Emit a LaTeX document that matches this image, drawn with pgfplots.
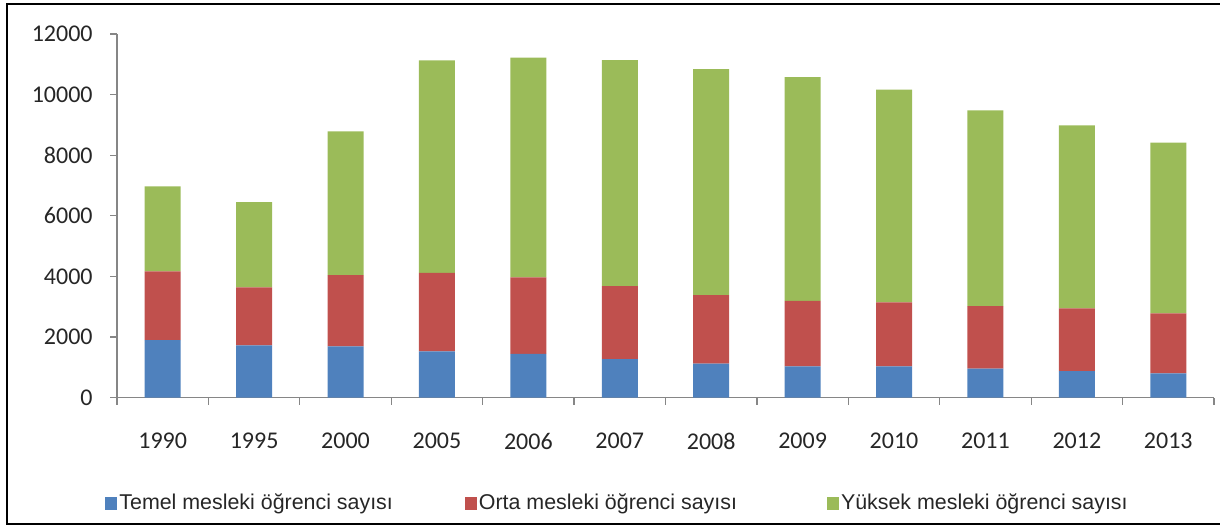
\documentclass[border=0pt]{standalone}
\usepackage{pgfplots}
\usepackage{pgfplotstable}
\pgfplotsset{compat=1.18}
\usepackage{fontspec}
\setmainfont{Liberation Sans}
\newfontfamily\carlito{Carlito}
\definecolor{cBlue}{HTML}{4F81BD}
\definecolor{cRed}{HTML}{C0504D}
\definecolor{cGreen}{HTML}{9BBB59}
\definecolor{axgray}{HTML}{868686}

\pgfplotstableread{
x year temel orta yuksek
0  1990 1896 2265 2812
1  1995 1721 1912 2813
2  2000 1688 2351 4748
3  2005 1523 2592 7012
4  2006 1444 2519 7254
5  2007 1269 2407 7462
6  2008 1115 2265 7461
7  2009 1028 2165 7385
8  2010 1028 2110 7022
9  2011  951 2066 6462
10 2012  874 2066 6045
11 2013  797 1978 5638
}\datatable

\begin{document}
\begin{tikzpicture}
\useasboundingbox (0,0) rectangle (610pt,263.5pt);
\draw[line width=1.25pt] (615pt,261.5pt) -- (3.5pt,261.5pt) -- (3.5pt,1.5pt) -- (615pt,1.5pt);
\begin{axis}[
  at={(58.5pt,64.75pt)}, anchor=south west,
  scale only axis, width=548.5pt, height=181.75pt,
  ybar stacked, bar width=18pt,
  xmin=-0.5, xmax=11.5, ymin=0, ymax=12000,
  xtick={0,...,11},
  xticklabels={1990,1995,2000,2005,2006,2007,2008,2009,2010,2011,2012,2013},
  major x tick style={draw=none},
  minor xtick={-0.5,0.5,...,11.5},
  ytick={0,2000,...,12000},
  scaled y ticks=false,
  axis x line*=bottom, axis y line*=left,
  axis line style={axgray, -, line width=0.6pt},
  tick style={axgray, line width=0.6pt},
  tick align=outside,
  major tick length=3.5pt, minor tick length=3.5pt,
  /pgf/number format/assume math mode=true,
  /pgf/number format/1000 sep={},
  ticklabel style={font=\carlito\fontsize{12}{14}\selectfont, text=black!85, inner sep=0pt},
  xticklabel style={anchor=north, yshift=-14pt},
  yticklabel style={anchor=east, xshift=-8.5pt},
  legend columns=3,
  legend image code/.code={\fill[#1] (0pt,-3.25pt) rectangle (6pt,3.25pt);},
  legend style={at={(-0.01094,-0.2916)}, anchor=west, draw=none, fill=none,
    inner sep=0pt, font=\fontsize{10.7}{12}\selectfont, text=black!85,
    nodes={inner xsep=1pt, inner ysep=0pt},
    /tikz/column 2/.style={column sep=35pt},
    /tikz/column 4/.style={column sep=44pt}},
  legend cell align=left,
]
\addplot[fill=cBlue, draw=none] table[x=x, y=temel] {\datatable};
\addplot[fill=cRed, draw=none] table[x=x, y=orta] {\datatable};
\addplot[fill=cGreen, draw=none] table[x=x, y=yuksek] {\datatable};
\legend{Temel mesleki öğrenci sayısı, Orta mesleki öğrenci sayısı, Yüksek mesleki öğrenci sayısı}
\end{axis}
\end{tikzpicture}
\end{document}
